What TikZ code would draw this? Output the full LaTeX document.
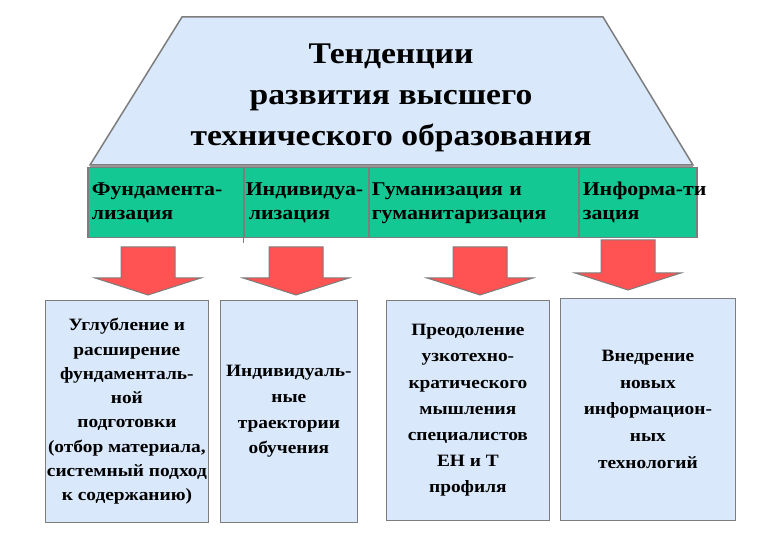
\documentclass[tikz,border=0pt]{standalone}
\usepackage{fontspec}
\setmainfont[FakeStretch=1.12]{Liberation Serif}
\usetikzlibrary{positioning}
\definecolor{paleblue}{RGB}{217,232,250}
\definecolor{trendgreen}{RGB}{20,200,148}
\definecolor{arrowred}{RGB}{255,82,82}
\definecolor{framegray}{RGB}{125,125,125}

\begin{document}
\begin{tikzpicture}[x=1pt,y=-1pt,
  trend/.style={draw=framegray, line width=1.5pt, fill=trendgreen, anchor=north west,
    minimum height=70pt, inner sep=5pt, align=left, font=\bfseries\fontsize{19.5}{24}\selectfont},
  result/.style={draw=framegray, line width=0.8pt, fill=paleblue, anchor=north west,
    inner sep=0pt, align=center, font=\bfseries\fontsize{17.3}{25.8}\selectfont}]
\useasboundingbox (0,0) rectangle (780,540);
% top trapezoid
\draw[framegray, line width=1.5pt, fill=paleblue] (182,17)--(603,17)--(693,165)--(90,165)--cycle;
\draw[framegray!80, line width=2.5pt] (90,166)--(693,166);
\node[align=center, font=\bfseries\fontsize{30}{41}\selectfont] (title) at (391,98)
  {Тенденции\\развития высшего\\технического образования};
% tendencies
\node[trend, minimum width=156pt, text width=148pt, inner sep=4pt] (fund) at (87,167) {Фундамента-\\лизация};
\node[trend, minimum width=125pt, text width=121pt, inner sep=2pt] (indiv) at (243,167) {\mbox{Индивидуа-}\\\hspace*{3pt}лизация};
\node[trend, minimum width=210pt, text width=204pt, inner sep=3pt] (human) at (368,167) {Гуманизация и\\гуманитаризация};
\node[trend, minimum width=118pt, text width=110pt, inner sep=4pt] (inform) at (578,167) {\mbox{Информа-ти}\\зация};
\draw[framegray, line width=1pt] (indiv.south west) -- ++(0,5);
% arrows
\foreach \cx/\ty/\tip in {148/247/295, 296/247/295, 480/247/295, 628/240/290}{
  \draw[framegray, line width=1pt, fill=arrowred]
    (\cx-27,\ty)--(\cx+27,\ty)--(\cx+27,\tip-17)--(\cx+53,\tip-17)--(\cx,\tip)
    --(\cx-53,\tip-17)--(\cx-27,\tip-17)--cycle;
}
% results
\node[result, minimum width=163pt, minimum height=222pt, font=\bfseries\fontsize{17.3}{24.3}\selectfont] (deep) at (45,300)
  {Углубление и\\расширение\\фундаменталь-\\ной\\подготовки\\(отбор материала,\\системный подход\\к содержанию)};
\node[result, minimum width=137pt, minimum height=222pt] (route) at (220,300)
  {Индивидуаль-\\ные\\траектории\\обучения};
\node[result, minimum width=163pt, minimum height=220pt, font=\bfseries\fontsize{17.3}{26.2}\selectfont] (overcome) at (386,300)
  {Преодоление\\узкотехно-\\кратического\\ мышления\\специалистов\\ЕН и Т\\профиля};
\node[result, minimum width=175pt, minimum height=222pt, font=\bfseries\fontsize{17.3}{26.7}\selectfont] (newtech) at (560,298)
  {Внедрение\\новых\\информацион-\\ных\\технологий};
\end{tikzpicture}
\end{document}
